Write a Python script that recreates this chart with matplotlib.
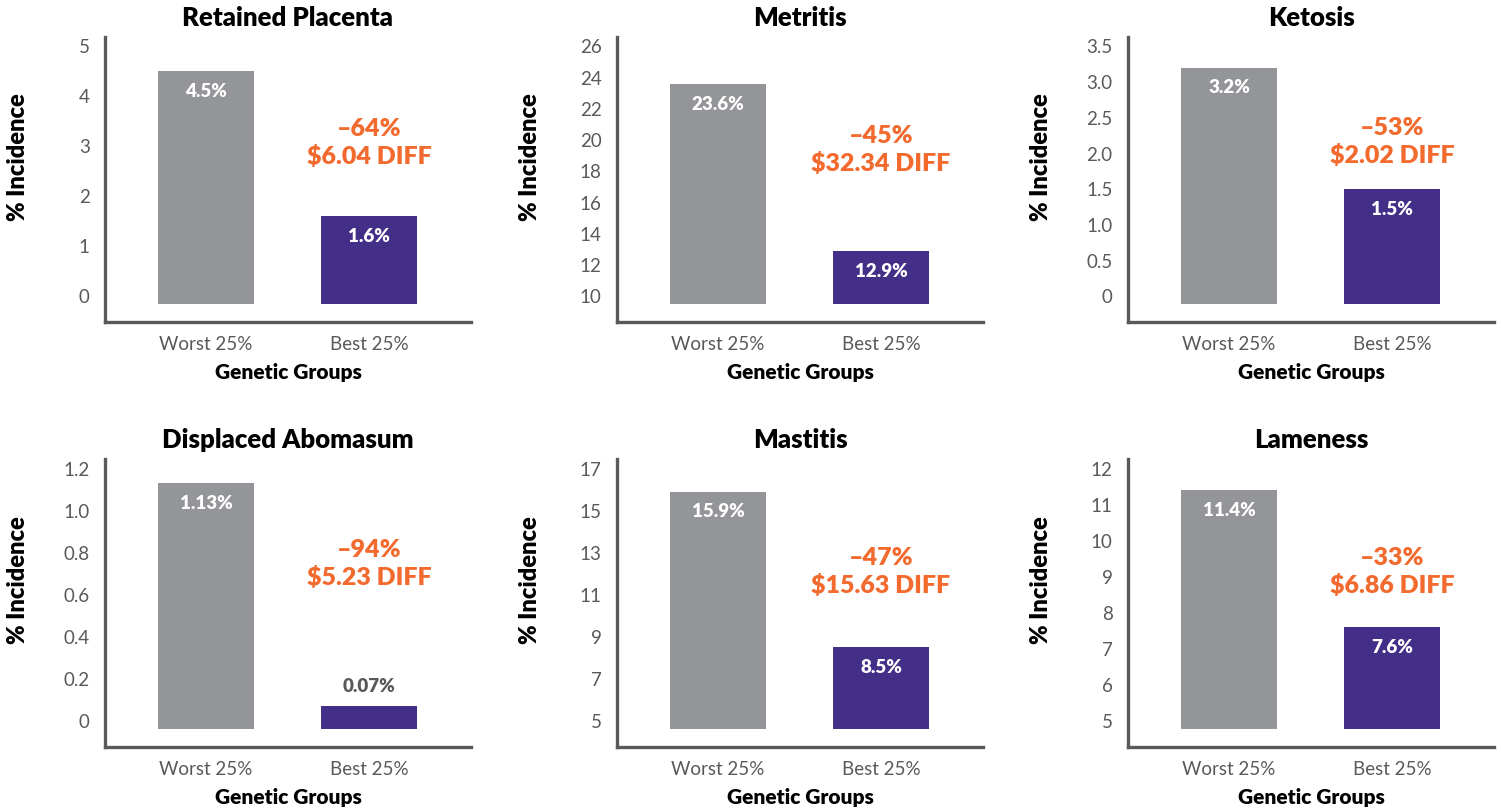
import numpy as np
import matplotlib
matplotlib.use("Agg")
import matplotlib.pyplot as plt

plt.rcParams["font.family"] = ["Lato", "DejaVu Sans"]

# incidence (%) by genetic group for each health event
titles = ["Retained Placenta", "Metritis", "Ketosis",
          "Displaced Abomasum", "Mastitis", "Lameness"]
groups = ["Worst 25%", "Best 25%"]
worst = [4.5, 23.6, 3.2, 1.13, 15.9, 11.4]
best = [1.6, 12.9, 1.5, 0.07, 8.5, 7.6]
value_labels = [("4.5%", "1.6%"), ("23.6%", "12.9%"), ("3.2%", "1.5%"),
                ("1.13%", "0.07%"), ("15.9%", "8.5%"), ("11.4%", "7.6%")]
reduction = ["\u201364%", "\u201345%", "\u201353%", "\u201394%", "\u201347%", "\u201333%"]
cost_diff = ["$6.04", "$32.34", "$2.02", "$5.23", "$15.63", "$6.86"]

# y tick sets per panel
yticks = [
    [0, 1, 2, 3, 4, 5],
    [10, 12, 14, 16, 18, 20, 22, 24, 26],
    [0, 0.5, 1.0, 1.5, 2.0, 2.5, 3.0, 3.5],
    [0, 0.2, 0.4, 0.6, 0.8, 1.0, 1.2],
    [5, 7, 9, 11, 13, 15, 17],
    [5, 6, 7, 8, 9, 10, 11, 12],
]
one_decimal = [False, False, True, True, False, False]

GRAY = "#939598"
PURPLE = "#432f87"
ORANGE = "#f26a2e"
AXIS = "#58595b"

W, H = 1501, 808
fig = plt.figure(figsize=(W / 100, H / 100), dpi=100)

col_left = [105, 617, 1128]
row_box = [(37, 322), (459, 747)]
ax_w = 366
note_y = [0.628, 0.604, 0.632, 0.635, 0.608, 0.608]

for i, title in enumerate(titles):
    r, c = divmod(i, 3)
    top, bot = row_box[r]
    ax = fig.add_axes([col_left[c] / W, 1 - bot / H, ax_w / W, (bot - top) / H])

    ticks = yticks[i]
    t0, tn = ticks[0], ticks[-1]
    span = tn - t0
    a, b = 0.09, 0.967  # axes fractions of the lowest and highest tick
    lo = t0 - a * span / (b - a)
    hi = lo + span / (b - a)
    base = t0 - 0.03 * span

    vals = [worst[i], best[i]]
    x = np.arange(2)
    ax.bar(x, np.array(vals) - base, bottom=base, width=0.59,
           color=[GRAY, PURPLE], zorder=2)
    ax.set_xlim(-0.62, 1.626)
    ax.set_ylim(lo, hi)

    for xi, v, lab in zip(x, vals, value_labels[i]):
        inside = (v - base) > 0.15 * span
        ax.annotate(lab, (xi, v), xytext=(0, -14.5 if inside else 14.5),
                    textcoords="offset points", ha="center", va="center",
                    color="white" if inside else AXIS,
                    fontsize=13.5, fontweight="heavy")

    ax.text(1, note_y[i], reduction[i] + "\n" + cost_diff[i] + " DIFF",
            transform=ax.get_xaxis_transform(), ha="center", va="center",
            color=ORANGE, fontsize=18, fontweight="heavy", linespacing=1.25)

    ax.set_yticks(ticks)
    if one_decimal[i]:
        labels = ["0"] + ["{:.1f}".format(t) for t in ticks[1:]]
    else:
        labels = ["{:g}".format(t) for t in ticks]
    ax.set_yticklabels(labels)
    ax.set_xticks(x)
    ax.set_xticklabels(groups)
    ax.tick_params(axis="both", length=0, labelsize=13.5, labelcolor=AXIS)
    ax.tick_params(axis="y", pad=11)
    ax.tick_params(axis="x", pad=10)

    for side in ["top", "right"]:
        ax.spines[side].set_visible(False)
    for side in ["left", "bottom"]:
        ax.spines[side].set_color(AXIS)
        ax.spines[side].set_linewidth(2.4)
        ax.spines[side].set_capstyle("projecting")

    ax.set_title(title, fontsize=18.5, fontweight="heavy", color="black", pad=8)
    ax.set_xlabel("Genetic Groups", fontsize=15, fontweight="heavy", labelpad=7)
    ax.set_ylabel("% Incidence", fontsize=17, fontweight="heavy", va="center")
    ax.yaxis.set_label_coords(-87 / ax_w, 0.58)

fig.savefig("out.png", dpi=100)
